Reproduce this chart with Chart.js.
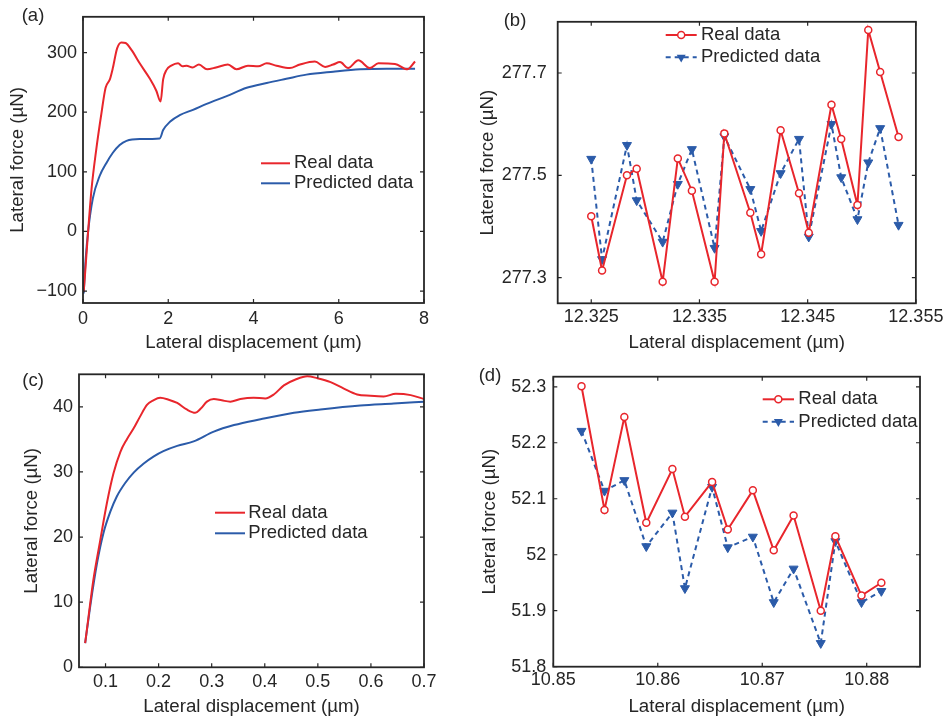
<!DOCTYPE html>
<html>
<head>
<meta charset="utf-8">
<script src="https://cdn.jsdelivr.net/npm/chart.js@4.4.0/dist/chart.umd.min.js"></script>
<style>
  body { margin: 0; background: #fff; width: 946px; height: 720px; position: relative; overflow: hidden; }
  canvas { position: absolute; left: 0; top: 0; }
</style>
</head>
<body>
<canvas id="ca" width="946" height="720"></canvas>
<canvas id="cb" width="946" height="720"></canvas>
<canvas id="cc" width="946" height="720"></canvas>
<canvas id="cd" width="946" height="720"></canvas>
<script>
// ---- (a) full scratch ----
const aRealX = [0.016, 0.06, 0.12, 0.2, 0.31, 0.43, 0.53, 0.63, 0.70, 0.80, 0.90, 1.0, 1.14, 1.33, 1.57, 1.72, 1.82, 1.88, 1.96, 2.07, 2.23, 2.33, 2.43, 2.57, 2.72, 2.91, 3.12, 3.40, 3.60, 3.87, 4.11, 4.31, 4.54, 4.85, 5.09, 5.44, 5.68, 5.87, 6.03, 6.22, 6.46, 6.73, 6.93, 7.32, 7.61, 7.79];
const aRealY = [-101, -60, 0, 71, 137, 197, 241, 255, 274, 307, 317, 316, 304, 282, 256, 236, 218, 255, 271, 278, 282, 277, 278, 275, 280, 272, 275, 280, 272, 278, 277, 282, 278, 274, 280, 285, 276, 280, 284, 274, 287, 274, 282, 281, 272, 285];
const aPredX = [0.016, 0.06, 0.12, 0.23, 0.39, 0.55, 0.70, 0.86, 1.02, 1.33, 1.80, 1.88, 2.04, 2.27, 2.58, 2.90, 3.37, 3.84, 4.31, 4.77, 5.24, 5.87, 6.50, 7.12, 7.79];
const aPredY = [-104, -49, 0, 55, 93, 115, 132, 145, 152, 155, 156, 170, 184, 195, 204, 214, 227, 241, 249, 256, 263, 268, 272, 273, 273];

// ---- (b) zoomed window ----
const bX = [12.325, 12.3260, 12.3283, 12.3292, 12.3316, 12.3330, 12.3343, 12.3364, 12.3373, 12.3397, 12.3407, 12.3425, 12.3442, 12.3451, 12.3472, 12.3481, 12.3496, 12.3506, 12.3517, 12.3534];
const bReal = [277.42, 277.314, 277.50, 277.513, 277.292, 277.533, 277.470, 277.292, 277.582, 277.427, 277.346, 277.588, 277.465, 277.388, 277.638, 277.571, 277.442, 277.784, 277.702, 277.575];
const bPred = [277.532, 277.336, 277.559, 277.451, 277.370, 277.483, 277.551, 277.358, 277.576, 277.473, 277.391, 277.504, 277.571, 277.380, 277.600, 277.496, 277.414, 277.525, 277.592, 277.403];

// ---- (c) full scratch ----
const cRealX = [0.0616, 0.068, 0.077, 0.090, 0.1025, 0.115, 0.128, 0.140, 0.153, 0.165, 0.178, 0.190, 0.203, 0.219, 0.235, 0.253, 0.269, 0.279, 0.291, 0.304, 0.319, 0.335, 0.354, 0.379, 0.401, 0.417, 0.436, 0.458, 0.480, 0.499, 0.524, 0.549, 0.574, 0.599, 0.624, 0.647, 0.675, 0.700];
const cRealY = [3.7, 7.8, 13.4, 19.5, 25.2, 29.8, 33.1, 35.0, 36.7, 38.5, 40.3, 41.0, 41.4, 41.1, 40.6, 39.6, 39.1, 39.7, 40.8, 41.2, 41.0, 40.8, 41.2, 41.4, 41.3, 41.9, 43.3, 44.2, 44.7, 44.4, 43.8, 42.8, 41.9, 41.7, 41.6, 42.0, 41.8, 41.2];
const cPredX = [0.0616, 0.071, 0.084, 0.096, 0.109, 0.121, 0.137, 0.153, 0.172, 0.191, 0.209, 0.235, 0.266, 0.304, 0.342, 0.392, 0.455, 0.505, 0.580, 0.643, 0.700];
const cPredY = [3.7, 9.3, 16.0, 20.6, 23.9, 26.2, 28.3, 29.9, 31.3, 32.4, 33.2, 34.0, 34.7, 36.2, 37.2, 38.1, 39.1, 39.6, 40.2, 40.5, 40.8];

// ---- (d) zoomed window ----
const dX = [10.8527, 10.8549, 10.8568, 10.8589, 10.8614, 10.8626, 10.8652, 10.8667, 10.8691, 10.8711, 10.8730, 10.8756, 10.8770, 10.8795, 10.8814];
const dReal = [52.301, 52.080, 52.246, 52.057, 52.153, 52.068, 52.130, 52.045, 52.115, 52.008, 52.070, 51.900, 52.033, 51.927, 51.950];
const dPred = [52.221, 52.114, 52.133, 52.015, 52.075, 51.940, 52.121, 52.013, 52.032, 51.915, 51.975, 51.842, 52.024, 51.915, 51.935];

// tick values
const aXTicks = [0, 2, 4, 6, 8];
const aYTicks = [-100, 0, 100, 200, 300];
const bXTicks = [12.325, 12.335, 12.345, 12.355];
const bYTicks = [277.3, 277.5, 277.7];
const cXTicks = [0.1, 0.2, 0.3, 0.4, 0.5, 0.6, 0.7];
const cYTicks = [0, 10, 20, 30, 40];
const dXTicks = [10.85, 10.86, 10.87, 10.88];
const dYTicks = [51.8, 51.9, 52, 52.1, 52.2, 52.3];

const RED = '#e8262c';
const BLUE = '#2b5ba9';
const INK = '#262626';
const FAMILY = '"Liberation Sans", Arial, sans-serif';

Chart.defaults.font.family = FAMILY;
Chart.defaults.font.size = 18;
Chart.defaults.color = INK;

function pts(xs, ys) {
  return xs.map((x, i) => ({x: x, y: ys[i]}));
}

function drawMark(ctx, kind, x, y) {
  ctx.beginPath();
  if (kind === 'circle') {
    ctx.arc(x, y, 3.5, 0, Math.PI * 2);
    ctx.fillStyle = '#fff';
    ctx.fill();
    ctx.lineWidth = 1.5;
    ctx.stroke();
  } else {
    ctx.moveTo(x - 4.5, y - 2.6);
    ctx.lineTo(x + 4.5, y - 2.6);
    ctx.lineTo(x, y + 5.2);
    ctx.closePath();
    ctx.fillStyle = BLUE;
    ctx.fill();
  }
}

// box, inward ticks on all sides, in-plot legend and panel tag
const frame = {
  id: 'frame',
  afterDatasetsDraw(chart, args, o) {
    const ctx = chart.ctx, a = chart.chartArea;
    const sx = chart.scales.x, sy = chart.scales.y;
    ctx.save();
    ctx.strokeStyle = INK;
    ctx.lineWidth = 1.2;
    ctx.beginPath();
    sx.ticks.forEach(t => {
      const p = sx.getPixelForValue(t.value);
      ctx.moveTo(p, a.bottom); ctx.lineTo(p, a.bottom - 4);
      ctx.moveTo(p, a.top); ctx.lineTo(p, a.top + 4);
    });
    sy.ticks.forEach(t => {
      const p = sy.getPixelForValue(t.value);
      ctx.moveTo(a.left, p); ctx.lineTo(a.left + 4, p);
      ctx.moveTo(a.right, p); ctx.lineTo(a.right - 4, p);
    });
    ctx.stroke();
    ctx.lineWidth = 1.8;
    ctx.strokeRect(a.left, a.top, a.right - a.left, a.bottom - a.top);

    ctx.font = '18.5px ' + FAMILY;
    ctx.textBaseline = 'middle';
    o.items.forEach(it => {
      ctx.save();
      ctx.strokeStyle = it.color;
      ctx.lineWidth = 2;
      ctx.setLineDash(it.dash || []);
      ctx.beginPath();
      ctx.moveTo(o.x1, it.y);
      ctx.lineTo(o.x2, it.y);
      ctx.stroke();
      ctx.setLineDash([]);
      if (it.marker) drawMark(ctx, it.marker, (o.x1 + o.x2) / 2, it.y);
      ctx.restore();
      ctx.fillStyle = INK;
      ctx.textAlign = 'left';
      ctx.fillText(it.label, o.tx, it.y);
    });
    ctx.fillStyle = INK;
    ctx.textAlign = 'center';
    ctx.fillText(o.tag, o.tagX, o.tagY);
    ctx.restore();
  }
};

function fmt(v) {
  const s = String(Math.round(v * 1000) / 1000);
  return s.replace('-', '\u2212');
}

function makePanel(p) {
  const lh = 18.7 * 1.2;
  const padLeft = p.yTitleX - lh / 2;
  const padBottom = 720 - p.xTitleY - lh / 2;
  new Chart(document.getElementById(p.id), {
    type: 'line',
    data: {datasets: p.datasets},
    options: {
      responsive: false,
      animation: false,
      layout: {padding: {left: padLeft, top: p.box.t, right: 946 - p.box.r, bottom: padBottom}},
      plugins: {
        legend: {display: false},
        tooltip: {enabled: false},
        frame: p.frame
      },
      scales: {
        x: {
          type: 'linear',
          min: p.xMin, max: p.xMax,
          grid: {display: false, drawTicks: false},
          border: {display: false},
          afterBuildTicks: s => { s.ticks = p.xTicks.map(v => ({value: v})); },
          afterFit: s => { s.height = (720 - padBottom) - p.box.b; },
          ticks: {padding: p.xPad, maxRotation: 0, autoSkip: false, callback: v => fmt(v)},
          title: {display: true, text: 'Lateral displacement (\u00b5m)', padding: 0, font: {size: 18.7}}
        },
        y: {
          type: 'linear',
          min: p.yMin, max: p.yMax,
          grid: {display: false, drawTicks: false},
          border: {display: false},
          afterBuildTicks: s => { s.ticks = p.yTicks.map(v => ({value: v})); },
          afterFit: s => { s.width = p.box.l - padLeft; },
          ticks: {padding: p.yPad, autoSkip: false, callback: v => fmt(v)},
          title: {display: true, text: 'Lateral force (\u00b5N)', padding: 0, font: {size: 18.7}}
        }
      }
    },
    plugins: [frame]
  });
}

const smoothLine = (data, color) => ({
  data: data, borderColor: color, borderWidth: 2, pointRadius: 0,
  cubicInterpolationMode: 'monotone', fill: false
});
const realMarks = data => ({
  data: data, borderColor: RED, borderWidth: 2, tension: 0,
  pointStyle: 'circle', pointRadius: 3.5, pointBorderWidth: 1.5,
  pointBorderColor: RED, pointBackgroundColor: '#fff', fill: false
});
const predMarks = data => ({
  data: data, borderColor: BLUE, borderWidth: 2, tension: 0, borderDash: [5, 4],
  pointStyle: 'triangle', pointRotation: 180, pointRadius: 5.2, pointBorderWidth: 1,
  pointBorderColor: BLUE, pointBackgroundColor: BLUE, fill: false
});

const plainLegend = (x1, x2, tx, y1, y2) => ({
  x1: x1, x2: x2, tx: tx,
  items: [
    {label: 'Real data', color: RED, y: y1},
    {label: 'Predicted data', color: BLUE, y: y2}
  ]
});
const markLegend = (x1, x2, tx, y1, y2) => ({
  x1: x1, x2: x2, tx: tx,
  items: [
    {label: 'Real data', color: RED, y: y1, marker: 'circle'},
    {label: 'Predicted data', color: BLUE, y: y2, marker: 'tri', dash: [5, 4]}
  ]
});

makePanel({
  id: 'ca', box: {l: 83, t: 11, r: 424, b: 303}, yTitleX: 18.3, xTitleY: 343.3,
  xMin: 0, xMax: 8, yMin: -120, yMax: 360, xTicks: aXTicks, yTicks: aYTicks, xPad: 5.5, yPad: 6,
  datasets: [smoothLine(pts(aRealX, aRealY), RED), smoothLine(pts(aPredX, aPredY), BLUE)],
  frame: Object.assign(plainLegend(261, 290, 294, 163.3, 183.3), {tag: '(a)', tagX: 33, tagY: 16})
});

makePanel({
  id: 'cb', box: {l: 557.7, t: 13.3, r: 916.7, b: 303.3}, yTitleX: 488.3, xTitleY: 343.3,
  xMin: 12.3219, xMax: 12.355, yMin: 277.25, yMax: 277.8, xTicks: bXTicks, yTicks: bYTicks, xPad: 2.6, yPad: 11,
  datasets: [realMarks(pts(bX, bReal)), predMarks(pts(bX, bPred))],
  frame: Object.assign(markLegend(665.7, 696.7, 701, 35, 57.3), {tag: '(b)', tagX: 515, tagY: 21})
});

makePanel({
  id: 'cc', box: {l: 79, t: 374.3, r: 424, b: 667.3}, yTitleX: 31.7, xTitleY: 706.7,
  xMin: 0.05, xMax: 0.7, yMin: 0, yMax: 45, xTicks: cXTicks, yTicks: cYTicks, xPad: 3.6, yPad: 6,
  datasets: [smoothLine(pts(cRealX, cRealY), RED), smoothLine(pts(cPredX, cPredY), BLUE)],
  frame: Object.assign(plainLegend(215, 245, 248.3, 512.7, 533.3), {tag: '(c)', tagX: 33, tagY: 381})
});

makePanel({
  id: 'cd', box: {l: 553.3, t: 376.7, r: 920, b: 666.7}, yTitleX: 490, xTitleY: 706.7,
  xMin: 10.85, xMax: 10.8851, yMin: 51.8, yMax: 52.318, xTicks: dXTicks, yTicks: dYTicks, xPad: 2.5, yPad: 7,
  datasets: [realMarks(pts(dX, dReal)), predMarks(pts(dX, dPred))],
  frame: Object.assign(markLegend(762.7, 794, 798.3, 399.3, 421.7), {tag: '(d)', tagX: 490, tagY: 376})
});
</script>
</body>
</html>
